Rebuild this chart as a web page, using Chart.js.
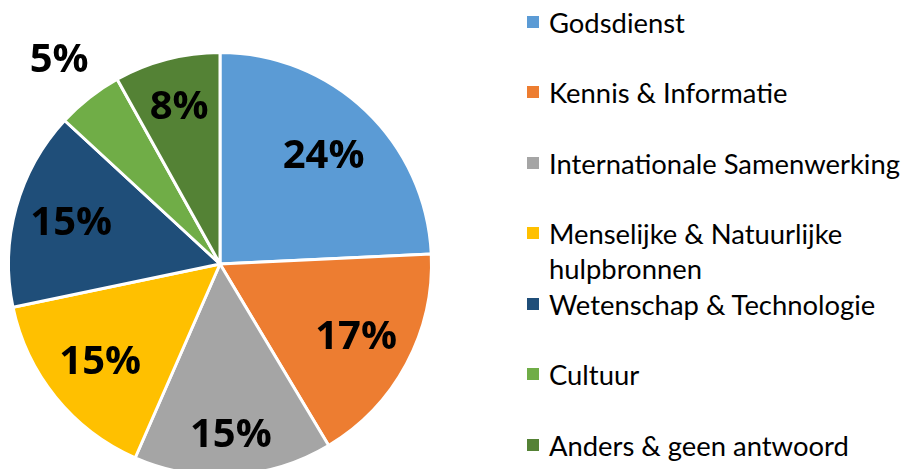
<!DOCTYPE html>
<html>
<head>
<meta charset="utf-8">
<script src="https://cdn.jsdelivr.net/npm/chart.js@4/dist/chart.umd.min.js"></script>
<style>
  html, body { margin: 0; padding: 0; background: #fff; width: 902px; height: 469px; overflow: hidden; }
  #pie { position: absolute; left: 0; top: 0; }
  #legend { position: absolute; left: 0; top: 0; font-family: Lato, "Open Sans", sans-serif; font-size: 27.4px; color: #000; }
  .item { position: absolute; left: 527px; white-space: nowrap; line-height: 35px; }
  .swatch { position: absolute; left: 0; width: 12px; height: 12px; top: 11px; }
  .text { position: absolute; left: 22px; top: 0; }
</style>
</head>
<body>
<canvas id="pie" width="440" height="528"></canvas>
<div id="legend"></div>
<script>
// Share of answers per category (percent)
const categories = [
  'Godsdienst',
  'Kennis & Informatie',
  'Internationale Samenwerking',
  ['Menselijke & Natuurlijke', 'hulpbronnen'],
  'Wetenschap & Technologie',
  'Cultuur',
  'Anders & geen antwoord'
];
const shares = [24, 17, 15, 15, 15, 5, 8];
const colors = ['#5B9BD5', '#ED7D31', '#A5A5A5', '#FFC000', '#1F4E79', '#70AD47', '#548235'];

// how far out each percentage label sits, as a fraction of the radius
const labelRadius = [0.71, 0.73, 0.81, 0.73, 0.73, 1.23, 0.77];

const percentLabels = {
  id: 'percentLabels',
  afterDatasetsDraw(chart) {
    const ctx = chart.ctx;
    const meta = chart.getDatasetMeta(0);
    ctx.save();
    ctx.font = 'bold 40px "Open Sans", Lato, sans-serif';
    ctx.fillStyle = '#000';
    ctx.textAlign = 'center';
    ctx.textBaseline = 'middle';
    meta.data.forEach((arc, i) => {
      const p = arc.getProps(['x', 'y', 'startAngle', 'endAngle', 'outerRadius'], true);
      const mid = (p.startAngle + p.endAngle) / 2;
      const r = p.outerRadius * labelRadius[i];
      ctx.fillText(shares[i] + '%', p.x + Math.cos(mid) * r, p.y + Math.sin(mid) * r + 1);
    });
    ctx.restore();
  }
};

new Chart(document.getElementById('pie'), {
  type: 'pie',
  data: {
    labels: categories,
    datasets: [{
      data: shares,
      backgroundColor: colors,
      borderColor: '#fff',
      borderWidth: 3,
      hoverOffset: 0
    }]
  },
  options: {
    responsive: false,
    animation: false,
    devicePixelRatio: 1,
    layout: { padding: { left: 7, right: 7, top: 0, bottom: 0 } },
    plugins: {
      legend: { display: false },
      tooltip: { enabled: false }
    }
  },
  plugins: [percentLabels]
});

// legend on the right, first lines evenly spaced like the original
const legend = document.getElementById('legend');
categories.forEach((label, i) => {
  const item = document.createElement('div');
  item.className = 'item';
  item.style.top = (4.5 + i * 70.5) + 'px';
  const sw = document.createElement('span');
  sw.className = 'swatch';
  sw.style.background = colors[i];
  const txt = document.createElement('span');
  txt.className = 'text';
  txt.innerHTML = [].concat(label).map(s => s.replace(/&/g, '&amp;')).join('<br>');
  item.appendChild(sw);
  item.appendChild(txt);
  legend.appendChild(item);
});
</script>
</body>
</html>
